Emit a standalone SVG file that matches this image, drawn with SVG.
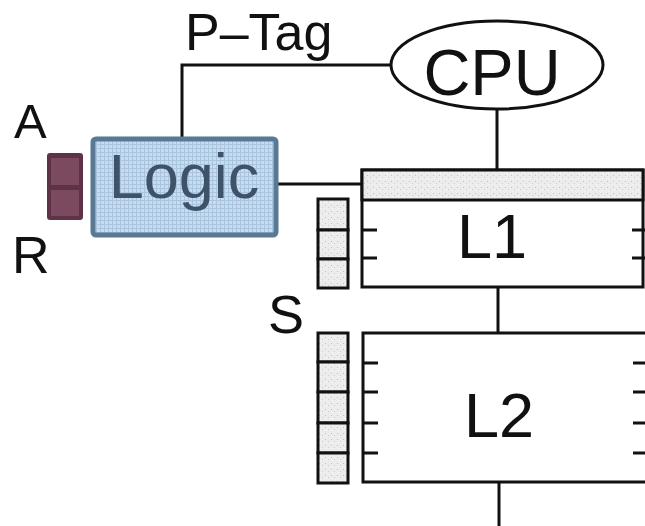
<svg xmlns="http://www.w3.org/2000/svg" width="645" height="526" viewBox="0 0 645 526">
<style>
.t{font-family:"Liberation Sans",Arial,sans-serif;fill:#111}
.ln{stroke:#111;stroke-width:3;fill:none}
.box{fill:#fff;stroke:#111;stroke-width:3}
.cell{stroke:#111;stroke-width:3}
</style>
<defs>
<pattern id="grid" width="4" height="4" patternUnits="userSpaceOnUse">
<rect width="4" height="4" fill="#c9dcee"/>
<path d="M0 0.5H4M0.5 0V4" stroke="#a9c4de" stroke-width="1"/>
</pattern>
<pattern id="stip" width="6" height="6" patternUnits="userSpaceOnUse">
<rect width="6" height="6" fill="#ececec"/>
<rect x="1" y="1" width="1" height="1" fill="#c2c2c2"/>
<rect x="4" y="3" width="1" height="1" fill="#cccccc"/>
<rect x="2" y="4" width="1" height="1" fill="#fafafa"/>
</pattern>
</defs>
<g id="connectors">
<path class="ln" d="M182 138V65H392"/>
<path class="ln" d="M497 110V170"/>
<path class="ln" d="M277 184H362"/>
<path class="ln" d="M498 287V333"/>
<path class="ln" d="M499 482V526"/>
</g>
<g id="cpu">
<ellipse cx="497" cy="65" rx="106" ry="44" fill="#fff" stroke="#111" stroke-width="3"/>
<text class="t" x="492" y="95" font-size="65" text-anchor="middle">CPU</text>
</g>
<text class="t" x="185" y="50" font-size="52">P–Tag</text>
<g id="logic">
<rect x="93" y="139" width="183" height="96" rx="3" fill="url(#grid)" stroke="#5a7994" stroke-width="5"/>
<text x="184" y="198" font-size="63" text-anchor="middle" font-family="'Liberation Sans',Arial,sans-serif" fill="#3e526a">Logic</text>
</g>
<g id="ar">
<rect x="48" y="154" width="34" height="65" rx="2" fill="#5e3348" stroke="#5e3348" stroke-width="2"/>
<rect x="51" y="158" width="28" height="27" fill="#7b4a5e"/>
<rect x="51" y="190" width="28" height="26" fill="#7b4a5e"/>
</g>
<text class="t" x="14" y="138" font-size="49">A</text>
<text class="t" x="12" y="273" font-size="52">R</text>
<text class="t" x="268" y="333" font-size="54">S</text>
<g id="l1">
<rect class="box" x="362" y="170" width="281" height="117"/>
<rect x="362" y="170" width="281" height="30" fill="url(#stip)" stroke="#111" stroke-width="3"/>
<path class="ln" d="M362 230H377M362 258H377M632 230H645M632 258H645"/>
<text class="t" x="492" y="258" font-size="63" text-anchor="middle">L1</text>
</g>
<g id="s1">
<rect class="cell" x="318" y="199" width="30" height="31" fill="url(#stip)"/>
<rect class="cell" x="318" y="230" width="30" height="29" fill="url(#stip)"/>
<rect class="cell" x="318" y="259" width="30" height="29" fill="url(#stip)"/>
</g>
<g id="l2">
<rect class="box" x="363" y="333" width="290" height="149"/>
<path class="ln" d="M363 363H378M363 392H378M363 423H378M363 453H378M633 363H645M633 392H645M633 423H645M633 453H645"/>
<text class="t" x="499" y="437" font-size="63" text-anchor="middle">L2</text>
</g>
<g id="s2">
<rect class="cell" x="318" y="333" width="30" height="29" fill="url(#stip)"/>
<rect class="cell" x="318" y="362" width="30" height="30" fill="url(#stip)"/>
<rect class="cell" x="318" y="392" width="30" height="31" fill="url(#stip)"/>
<rect class="cell" x="318" y="423" width="30" height="30" fill="url(#stip)"/>
<rect class="cell" x="318" y="453" width="30" height="30" fill="url(#stip)"/>
</g>
</svg>
